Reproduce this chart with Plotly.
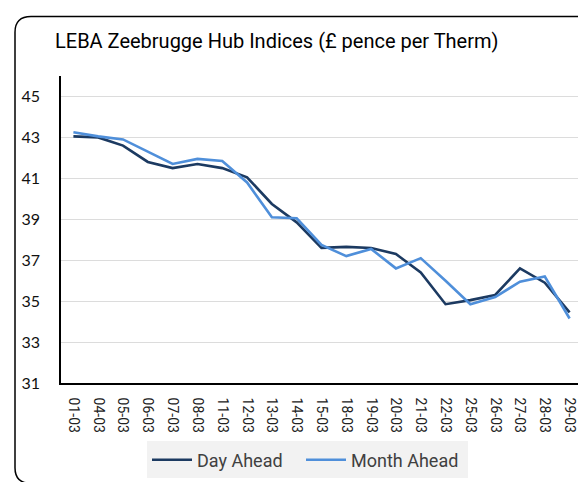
import plotly.graph_objects as go

dates = ["01-03", "04-03", "05-03", "06-03", "07-03", "08-03", "11-03", "12-03", "13-03", "14-03",
         "15-03", "18-03", "19-03", "20-03", "21-03", "22-03", "25-03", "26-03", "27-03", "28-03", "29-03"]
day_ahead = [43.05, 43.0, 42.6, 41.8, 41.5, 41.7, 41.5, 41.05, 39.75, 38.85,
             37.6, 37.65, 37.6, 37.3, 36.4, 34.85, 35.05, 35.3, 36.6, 35.9, 34.45]
month_ahead = [43.25, 43.05, 42.9, 42.3, 41.7, 41.95, 41.85, 40.8, 39.1, 39.05,
               37.75, 37.2, 37.55, 36.6, 37.1, 36.0, 34.85, 35.2, 35.95, 36.2, 34.15]

W, H = 586, 482
ML, MR, MT, MB = 53, 12, 68, 99
PW, PH = W - ML - MR, H - MT - MB


def px2x(px):
    return (px - ML) / PW


def px2y(py):
    return (H - MB - py) / PH


fig = go.Figure()
fig.add_trace(go.Scatter(x=dates, y=day_ahead, mode="lines", name="Day Ahead\u00a0\u00a0\u00a0",
                         line=dict(color="#1C3A61", width=2.6)))
fig.add_trace(go.Scatter(x=dates, y=month_ahead, mode="lines", name="Month Ahead\u00a0",
                         line=dict(color="#4F8FDA", width=2.6)))

# rounded chart border
x0, x1, y0, y1, r = 7, 591, 7, 486, 16
path = (f"M {px2x(x0 + r)} {px2y(y0)} L {px2x(x1 - r)} {px2y(y0)} "
        f"Q {px2x(x1)} {px2y(y0)} {px2x(x1)} {px2y(y0 + r)} "
        f"L {px2x(x1)} {px2y(y1 - r)} Q {px2x(x1)} {px2y(y1)} {px2x(x1 - r)} {px2y(y1)} "
        f"L {px2x(x0 + r)} {px2y(y1)} Q {px2x(x0)} {px2y(y1)} {px2x(x0)} {px2y(y1 - r)} "
        f"L {px2x(x0)} {px2y(y0 + r)} Q {px2x(x0)} {px2y(y0)} {px2x(x0 + r)} {px2y(y0)} Z")

fig.update_layout(
    width=W, height=H,
    margin=dict(l=ML, r=MR, t=MT, b=MB),
    paper_bgcolor="white", plot_bgcolor="white",
    title=dict(text="LEBA Zeebrugge Hub Indices (£ pence per Therm)",
               x=47 / W, xref="container", xanchor="left",
               y=1 - 33 / H, yref="container", yanchor="middle",
               pad=dict(l=0, r=0, t=0, b=0),
               font=dict(family="Roboto", size=20, color="#000000")),
    shapes=[dict(type="path", path=path, xref="paper", yref="paper",
                 line=dict(color="#000000", width=1.5), layer="above")],
    legend=dict(orientation="h", x=px2x(299.5), xanchor="center",
                y=px2y(462), yanchor="middle", bgcolor="#F2F2F2",
                font=dict(family="Roboto", size=18, color="#404040"),
                itemwidth=40),
    xaxis=dict(type="category", range=[-0.5, len(dates) - 0.5],
               showline=True, linecolor="#000000", linewidth=1.5,
               showgrid=False, ticks="", tickangle=90,
               tickfont=dict(family="Roboto", size=14, color="#222222"),
               ticklabelstandoff=10),
    yaxis=dict(range=[31, 46], tick0=31, dtick=2,
               showline=True, linecolor="#000000", linewidth=1.5,
               showgrid=True, gridcolor="#DCDCDC", gridwidth=1.2,
               zeroline=False, ticks="",
               tickfont=dict(family="Lato", size=16, color="#111111"),
               ticklabelstandoff=16),
)

fig.write_html("out.html")
